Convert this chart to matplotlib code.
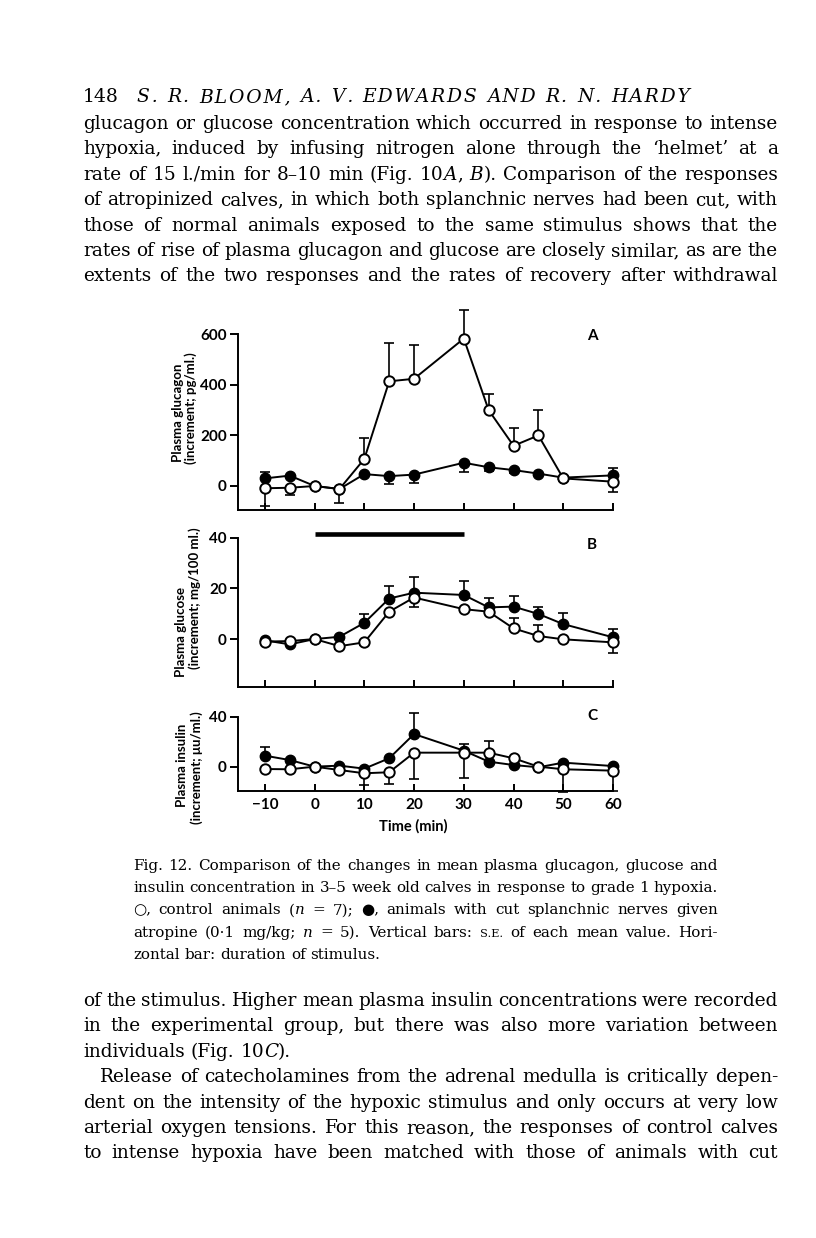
import numpy as np
import matplotlib
matplotlib.use('Agg')
import matplotlib.pyplot as plt

# time points (min)
t = [-10, -5, 0, 5, 10, 15, 20, 30, 35, 40, 45, 50, 60]

# A: plasma glucagon (increment; pg/ml)
glucagon_ctrl = [-9, -7, 0, -12, 107, 414, 424, 583, 300, 159, 200, 30, 17]
glucagon_ctrl_se = [-70, -29, 0, -56, 84, 152, 135, 114, 62, 69, 100, 0, -39]
glucagon_cut = [30, 41, 0, -12, 47, 39, 45, 92, 74, 63, 49, 33, 42]
glucagon_cut_se = [24, 0, 0, 0, 0, -31, -32, -38, -16, -10, 0, 0, 28]

# B: plasma glucose (increment; mg/100 ml)
glucose_ctrl = [-1.0, -0.8, 0, -2.8, -1.3, 10.8, 16.4, 11.8, 10.8, 4.2, 1.2, -0.1, -1.3]
glucose_ctrl_se = [0, 0, 0, -1.0, -1.0, 0, -3.6, 0, 0, 4.0, 4.3, 0, -4.1]
glucose_cut = [-0.5, -2.1, 0, 0.9, 6.4, 16.0, 18.3, 17.4, 12.5, 12.8, 9.9, 5.9, 0.7]
glucose_cut_se = [0, 0, 0, 0, 3.3, 5.0, 6.3, 5.5, 3.8, 4.2, 2.6, 4.2, 3.4]

# C: plasma insulin (increment; uU/ml)
insulin_ctrl = [-1.9, -2.1, 0, -2.7, -5.3, -4.5, 11.2, 11.2, 11.2, 6.7, 0, -2.1, -3.2]
insulin_ctrl_se = [-1.0, 0, 0, 0, -9.4, -9.6, -21, -20.5, 9.6, 0, 0, -18, -16.5]
insulin_cut = [8.8, 5.3, 0, 0.8, -1.6, 6.7, 26.1, 12.8, 4.0, 1.3, -0.5, 3.2, 0.5]
insulin_cut_se = [7.2, 0, 0, 0, 0, 0, 17, 5.3, 0, 0, 0, 0, 0]

stimulus = [0, 30]

header_num = "148"
header_txt = "S. R. BLOOM, A. V. EDWARDS AND R. N. HARDY"

body_top = [
    "glucagon or glucose concentration which occurred in response to intense",
    "hypoxia, induced by infusing nitrogen alone through the \u2018helmet\u2019 at a",
    "rate of 15 l./min for 8\u201310 min (Fig. 10*A*, *B*). Comparison of the responses",
    "of atropinized calves, in which both splanchnic nerves had been cut, with",
    "those of normal animals exposed to the same stimulus shows that the",
    "rates of rise of plasma glucagon and glucose are closely similar, as are the",
    "extents of the two responses and the rates of recovery after withdrawal",
]

caption = [
    "Fig. 12. Comparison of the changes in mean plasma glucagon, glucose and",
    "insulin concentration in 3\u20135 week old calves in response to grade 1 hypoxia.",
    "\u25cb, control animals (*n* = 7); \u25cf, animals with cut splanchnic nerves given",
    "atropine (0\u00b71 mg/kg; *n* = 5). Vertical bars: ^S.E.^ of each mean value. Hori-",
    "zontal bar: duration of stimulus.",
]

body_bottom = [
    "of the stimulus. Higher mean plasma insulin concentrations were recorded",
    "in the experimental group, but there was also more variation between",
    "individuals (Fig. 10*C*).",
    "Release of catecholamines from the adrenal medulla is critically depen-",
    "dent on the intensity of the hypoxic stimulus and only occurs at very low",
    "arterial oxygen tensions. For this reason, the responses of control calves",
    "to intense hypoxia have been matched with those of animals with cut",
]

plt.rcParams['font.family'] = ['Lato', 'DejaVu Sans']
plt.rcParams['font.weight'] = 'bold'

W, H = 816, 1238
fig = plt.figure(figsize=(8.16, 12.38), dpi=100)
renderer = fig.canvas.get_renderer()
SERIF = ['DejaVu Serif', 'DejaVu Sans']


def fx(x):
    return x / W


def fy(y):
    return 1 - y / H


def parse(line):
    words = []
    ital = False
    small = False
    for w in line.split(' '):
        segs = []
        buf = ''
        for ch in w:
            if ch in '*^':
                if buf:
                    segs.append((buf, ital, small))
                    buf = ''
                if ch == '*':
                    ital = not ital
                else:
                    small = not small
            else:
                buf += ch
        if buf:
            segs.append((buf, ital, small))
        words.append(segs)
    return words


def seg_kw(size, ital, small):
    return dict(fontsize=size * (0.75 if small else 1), family=SERIF,
                style='italic' if ital else 'normal', weight='normal')


def seg_width(txt, size, ital, small):
    tt = fig.text(0, 0, txt, **seg_kw(size, ital, small))
    w = tt.get_window_extent(renderer).width
    tt.remove()
    return w


def text_line(line, x0, x1, yb, size, justify=True, indent=0, min_gap=0.25):
    words = parse(line)
    while True:
        widths = [[seg_width(s, size, i, sm) for s, i, sm in w] for w in words]
        total = sum(sum(w) for w in widths)
        space = size * 100 / 72 * 0.32
        if justify and len(words) > 1:
            gap = (x1 - x0 - indent - total) / (len(words) - 1)
            if gap < space * min_gap * 4 * 0.55:
                size -= 0.2
                continue
        else:
            gap = space
        break
    x = x0 + indent
    for w, ws in zip(words, widths):
        for (s, i, sm), sw in zip(w, ws):
            fig.text(fx(x), fy(yb), s, va='baseline', ha='left', **seg_kw(size, i, sm))
            x += sw
        x += gap


# page text
fig.text(fx(83), fy(102), header_num, va='baseline', fontsize=13.5, family=SERIF, weight='normal')
spaced = ' '.join('\u200a'.join(wd) for wd in header_txt.split(' '))
text_line('*' + spaced + '*', 137, 690, 102, 13.5)

for k, ln in enumerate(body_top):
    text_line(ln, 83, 778, 129 + k * 25.4, 13.3)

for k, ln in enumerate(caption):
    text_line(ln, 133, 718, 870 + k * 22.2, 10.9, justify=(k < 4))

for k, ln in enumerate(body_bottom):
    text_line(ln, 83, 778, 1006 + k * 25.4, 13.3, justify=(k not in (2,)),
              indent=17 if k == 3 else 0)


# chart panels
def make_ax(top, bottom):
    return fig.add_axes([fx(238), fy(bottom), (613 - 238) / W, (bottom - top) / H])


def panel(ax, ctrl, ctrl_se, cut, cut_se, ylim, yticks, xlabels=False):
    tt = np.array(t)
    for y, e, z in [(cut, cut_se, 2), (ctrl, ctrl_se, 2)]:
        y = np.array(y, float)
        e = np.array(e, float)
        m = e != 0
        lo = np.where(e < 0, -e, 0)
        hi = np.where(e > 0, e, 0)
        ax.errorbar(tt[m], y[m], yerr=[lo[m], hi[m]], fmt='none', ecolor='k',
                    elinewidth=1.2, capsize=3.5, capthick=1.2, clip_on=False, zorder=z)
    ax.plot(t, cut, '-o', color='k', lw=1.4, ms=7.5, mfc='k', mec='k',
            clip_on=False, zorder=3)
    ax.plot(t, ctrl, '-o', color='k', lw=1.4, ms=7.5, mfc='white', mec='k', mew=1.4,
            clip_on=False, zorder=4)
    ax.set_xlim(-15.4, 60)
    ax.set_ylim(*ylim)
    ax.set_yticks(yticks)
    ax.set_xticks(range(-10, 61, 10))
    for s in ['top', 'right']:
        ax.spines[s].set_visible(False)
    for s in ['left', 'bottom']:
        ax.spines[s].set_linewidth(1.4)
    ax.tick_params(axis='y', direction='out', length=6, width=1.4, labelsize=11, pad=2)
    ax.tick_params(axis='x', direction='in', length=5, width=1.4, labelsize=11, pad=5)
    if xlabels:
        ax.set_xticklabels([str(v).replace('-', '\u2212') for v in range(-10, 61, 10)])
    else:
        ax.set_xticklabels([])
    ax.patch.set_alpha(0)


axA = make_ax(334.3, 510)
panel(axA, glucagon_ctrl, glucagon_ctrl_se, glucagon_cut, glucagon_cut_se,
      (-95, 600), [0, 200, 400, 600])
axB = make_ax(537.7, 686.7)
panel(axB, glucose_ctrl, glucose_ctrl_se, glucose_cut, glucose_cut_se,
      (-18.8, 40), [0, 20, 40])
axB.plot(stimulus, [41.4, 41.4], color='k', lw=3.3, solid_capstyle='butt', clip_on=False)
axC = make_ax(716.7, 791)
panel(axC, insulin_ctrl, insulin_ctrl_se, insulin_cut, insulin_cut_se,
      (-19.5, 40), [0, 40], xlabels=True)

lab = dict(fontsize=11, weight='bold', ha='center', va='center')
fig.text(fx(592), fy(336), 'A', **lab)
fig.text(fx(592), fy(545), 'B', **lab)
fig.text(fx(592), fy(716), 'C', **lab)
fig.text(fx(413), fy(826), 'Time (min)', fontsize=10.5, weight='bold', ha='center', va='center')

yl = dict(fontsize=9.5, weight='bold', rotation=90, ha='center', va='center')
fig.text(fx(178), fy(413), 'Plasma glucagon', **yl)
fig.text(fx(191), fy(408), '(increment; pg/ml.)', **yl)
fig.text(fx(181), fy(632), 'Plasma glucose', **yl)
fig.text(fx(195), fy(598), '(increment; mg/100 ml.)', **yl)
fig.text(fx(182), fy(765), 'Plasma insulin', **yl)
fig.text(fx(197), fy(768), '(increment; \u03bcu/ml.)', **yl)

fig.savefig('out.png', dpi=100)
